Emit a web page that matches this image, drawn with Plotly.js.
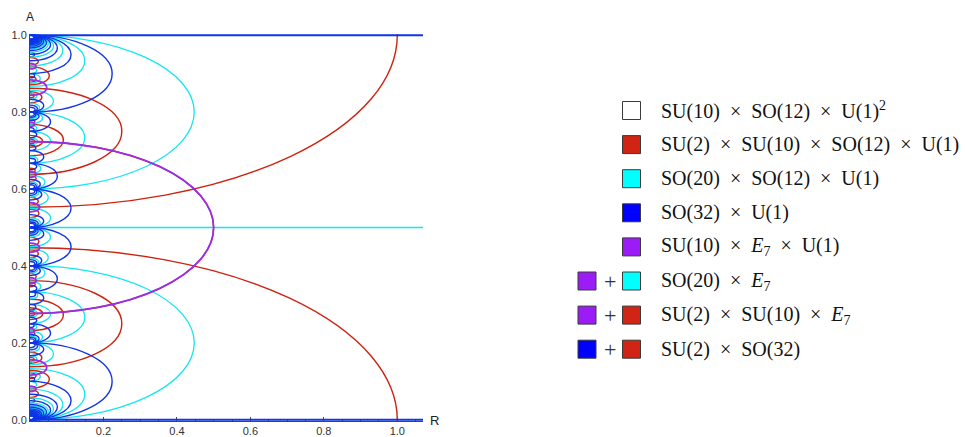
<!DOCTYPE html>
<html>
<head>
<meta charset="utf-8">
<script src="https://cdn.plot.ly/plotly-3.0.1.min.js"></script>
<style>
  html, body { margin: 0; padding: 0; background: #fff; }
  #chart { width: 965px; height: 437px; }
</style>
</head>
<body>
<div id="chart"></div>
<script>
// Enhancement loci in the (R, A) plane. Every curve is R^2 + 5 (A - c)^2 = r^2,
// i.e. a half-ellipse resting on the A axis with centre c and half-width r along R.

// SO(32) x U(1) loci (blue): half-width along R per family, and centres in A
const blueRadius = [0.2236, 0.1118, 0.0745, 0.0559, 0.0447, 0.0373, 0.0319, 0.0280, 0.0248, 0.0224,
                    0.0203, 0.0186, 0.0172, 0.0160, 0.0149, 0.0140, 0.0132, 0.0124, 0.0118, 0.0112];
const blueCenters = [
  [0.1, 0.9],
  [0.05, 0.45, 0.55, 0.95],
  [0.0333, 0.3667, 0.6333, 0.9667],
  [0.025, 0.225, 0.775, 0.975],
  [0.02, 0.98],
  [0.0167, 0.1833, 0.3167, 0.4833, 0.5167, 0.6833, 0.8167, 0.9833],
  [0.0143, 0.4143, 0.5857, 0.9857],
  [0.0125, 0.3875, 0.6125, 0.9875],
  [0.0111, 0.2111, 0.7889, 0.9889],
  [0.01, 0.49, 0.51, 0.99],
  [0.0091, 0.1909, 0.8091, 0.9909],
  [0.0083, 0.2583, 0.3417, 0.4083, 0.5917, 0.6583, 0.7417, 0.9917],
  [0.0077, 0.3923, 0.6077, 0.9923],
  [0.0071, 0.2071, 0.2929, 0.4929, 0.5071, 0.7071, 0.7929, 0.9929],
  [0.0067, 0.3267, 0.6733, 0.9933],
  [0.0063, 0.1938, 0.8063, 0.9938],
  [0.0059, 0.4059, 0.5941, 0.9941],
  [0.0056, 0.1056, 0.3944, 0.4944, 0.5056, 0.6056, 0.8944, 0.9944],
  [0.0053, 0.2053, 0.7947, 0.9947],
  [0.005, 0.245, 0.755, 0.995]
];

// SO(20) x SO(12) x U(1) loci (cyan)
const cyanRadius = [0.4472, 0.1491, 0.0894, 0.0639, 0.0559, 0.0497, 0.0407, 0.0344,
                    0.0298, 0.0280, 0.0263, 0.0235, 0.0213, 0.0194, 0.0186, 0.0179];
const cyanCenters = [
  [0.2, 0.8],
  [0.0667, 0.2667, 0.7333, 0.9333],
  [0.04, 0.96],
  [0.0286, 0.1714, 0.8286, 0.9714],
  [0.275, 0.475, 0.525, 0.725],
  [0.0222, 0.4222, 0.5778, 0.9778],
  [0.0182, 0.3818, 0.6182, 0.9818],
  [0.0154, 0.2154, 0.7846, 0.9846],
  [0.0133, 0.3467, 0.6533, 0.9867],
  [0.1125, 0.4875, 0.5125, 0.8875],
  [0.0118, 0.1882, 0.8118, 0.9882],
  [0.0105, 0.4105, 0.5895, 0.9895],
  [0.0095, 0.2762, 0.3238, 0.3905, 0.6095, 0.6762, 0.7238, 0.9905],
  [0.0087, 0.2087, 0.7913, 0.9913],
  [0.0917, 0.1583, 0.2417, 0.4917, 0.5083, 0.7583, 0.8417, 0.9083],
  [0.008, 0.992]
];

// SU(2) x SU(10) x SO(12) x U(1) loci (red)
const redRadius = [1.0, 0.5, 0.25, 0.0909, 0.0526, 0.0345, 0.0323, 0.0244, 0.0227,
                   0.0169, 0.0164, 0.0141, 0.0132, 0.0127, 0.0112];
const redCenters = [
  [0, 1],
  [0.5],
  [0.25, 0.75],
  [0.2727, 0.7273],
  [0.1053, 0.8947],
  [0.2759, 0.7241],
  [0.1613, 0.8387],
  [0.4634, 0.5366],
  [0.0682, 0.4318, 0.5682, 0.9318],
  [0.3729, 0.6271],
  [0.1148, 0.8852],
  [0.3521, 0.6479],
  [0.2237, 0.2763, 0.7237, 0.7763],
  [0.0506, 0.9494],
  [0.1573, 0.8427]
];

// SU(10) x E7 x U(1) loci (purple)
const purpleRadius = [0.5, 0.0455, 0.0263, 0.0172, 0.0161, 0.0122];
const purpleCenters = [
  [0.5],
  [0.1364, 0.8636],
  [0.4474, 0.5526],
  [0.3621, 0.6379],
  [0.0806, 0.9194],
  [0.2317, 0.7683]
];

// Straight loci at constant A
const blueLinesA = [0, 1];
const cyanLinesA = [0.5];

// Legend
const legendLabels = [
  'SU(10)\u2002×\u2002SO(12)\u2002×\u2002U(1)<sup>2</sup>',
  'SU(2)\u2002×\u2002SU(10)\u2002×\u2002SO(12)\u2002×\u2002U(1)',
  'SO(20)\u2002×\u2002SO(12)\u2002×\u2002U(1)',
  'SO(32)\u2002×\u2002U(1)',
  'SU(10)\u2002×\u2002<i>E</i><sub>7</sub>\u2002×\u2002U(1)',
  'SO(20)\u2002×\u2002<i>E</i><sub>7</sub>',
  'SU(2)\u2002×\u2002SU(10)\u2002×\u2002<i>E</i><sub>7</sub>',
  'SU(2)\u2002×\u2002SO(32)'
];
const legendSwatches = [
  [null, 'white'], [null, 'red'], [null, 'cyan'], [null, 'blue'], [null, 'purple'],
  ['purple', 'cyan'], ['purple', 'red'], ['blue', 'red']
];

const xTicks = [0.2, 0.4, 0.6, 0.8, 1.0];
const yTicks = [0.0, 0.2, 0.4, 0.6, 0.8, 1.0];

// ---- styling ----
const LINE = { red: '#cc2410', cyan: '#14e6f0', blue: '#0f34e8', purple: '#9a2ee6' };
const SWATCH = { white: '#ffffff', red: '#d22414', cyan: '#00ffff', blue: '#0000ff', purple: '#9b1cf6' };
const ROOT5 = Math.sqrt(5);

const M = { l: 30, r: 542, t: 34, b: 16 };
const PW = 965 - M.l - M.r, PH = 437 - M.t - M.b;
const px = p => (p - M.l) / PW;        // pixel column -> paper x
const py = p => (M.t + PH - p) / PH;   // pixel row -> paper y

const shapes = [];

function addLoci(radii, centers, color, width) {
  radii.forEach((r, i) => {
    centers[i].forEach(c => {
      shapes.push({
        type: 'circle', xref: 'x', yref: 'y', layer: 'above',
        x0: -r, x1: r, y0: c - r / ROOT5, y1: c + r / ROOT5,
        line: { color: color, width: width }, fillcolor: 'rgba(0,0,0,0)'
      });
    });
  });
}
function addLines(values, color, width) {
  values.forEach(a => {
    shapes.push({
      type: 'line', xref: 'paper', yref: 'y', layer: 'above',
      x0: 0, x1: 1, y0: a, y1: a,
      line: { color: color, width: width }
    });
  });
}

addLoci(redRadius, redCenters, LINE.red, 1.4);
addLoci(cyanRadius, cyanCenters, LINE.cyan, 1.3);
addLines(cyanLinesA, LINE.cyan, 1.5);
addLoci(blueRadius, blueCenters, LINE.blue, 1.4);
addLoci(purpleRadius, purpleCenters, LINE.purple, 1.8);
addLines(blueLinesA, LINE.blue, 2);

// legend swatches, signs and labels
const annotations = [];
const ROW0 = 110.5, ROWSTEP = 34.1, SQ = 18;
legendSwatches.forEach((pair, i) => {
  const yc = ROW0 + i * ROWSTEP;
  const box = (xl, key) => shapes.push({
    type: 'rect', xref: 'paper', yref: 'paper',
    x0: px(xl), x1: px(xl + SQ), y0: py(yc + SQ / 2), y1: py(yc - SQ / 2),
    fillcolor: SWATCH[key], line: { color: '#3a3a3a', width: 1 }
  });
  box(622.5, pair[1]);
  if (pair[0]) {
    box(578, pair[0]);
    annotations.push({
      xref: 'paper', yref: 'paper', x: px(609.5), y: py(yc), xanchor: 'center', yanchor: 'middle',
      text: '+', showarrow: false, font: { family: 'Liberation Serif', size: 22, color: '#333' }
    });
  }
  annotations.push({
    xref: 'paper', yref: 'paper', x: px(659), y: py(yc), xanchor: 'left', yanchor: 'middle',
    text: legendLabels[i], showarrow: false,
    font: { family: 'Liberation Serif, Times New Roman, serif', size: 20, color: '#111' }
  });
});

// axis letters
annotations.push({ xref: 'paper', yref: 'paper', x: px(30), y: py(17), xanchor: 'center', yanchor: 'middle',
  text: 'A', showarrow: false, font: { family: 'Liberation Sans, Arial, sans-serif', size: 12, color: '#222' } });
annotations.push({ xref: 'paper', yref: 'paper', x: px(428), y: py(420), xanchor: 'left', yanchor: 'middle',
  text: 'R', showarrow: false, font: { family: 'Liberation Sans, Arial, sans-serif', size: 13, color: '#222' } });

const tickFont = { family: 'Liberation Sans, Arial, sans-serif', size: 11, color: '#333' };

const layout = {
  width: 965, height: 437,
  margin: M,
  paper_bgcolor: '#fff', plot_bgcolor: '#fff',
  showlegend: false,
  xaxis: {
    range: [0, 1.07], showgrid: false, zeroline: false,
    showline: true, linecolor: '#444', linewidth: 1,
    ticks: 'inside', ticklen: 4, tickcolor: '#444', tickwidth: 1,
    tickvals: xTicks, ticktext: xTicks.map(v => v.toFixed(1)),
    tickfont: tickFont,
    minor: { ticks: 'inside', ticklen: 2, tickcolor: '#444', dtick: 0.05, tick0: 0, showgrid: false }
  },
  yaxis: {
    range: [-0.003, 1.003], showgrid: false, zeroline: false,
    showline: true, linecolor: '#444', linewidth: 1,
    ticks: 'inside', ticklen: 4, tickcolor: '#444', tickwidth: 1,
    tickvals: yTicks, ticktext: yTicks.map(v => v.toFixed(1)),
    tickfont: tickFont,
    minor: { ticks: 'inside', ticklen: 2, tickcolor: '#444', dtick: 0.05, tick0: 0, showgrid: false }
  },
  shapes: shapes,
  annotations: annotations
};

Plotly.newPlot('chart', [{ x: [], y: [], type: 'scatter', mode: 'lines', hoverinfo: 'skip' }], layout,
  { staticPlot: true, displayModeBar: false });
</script>
</body>
</html>
